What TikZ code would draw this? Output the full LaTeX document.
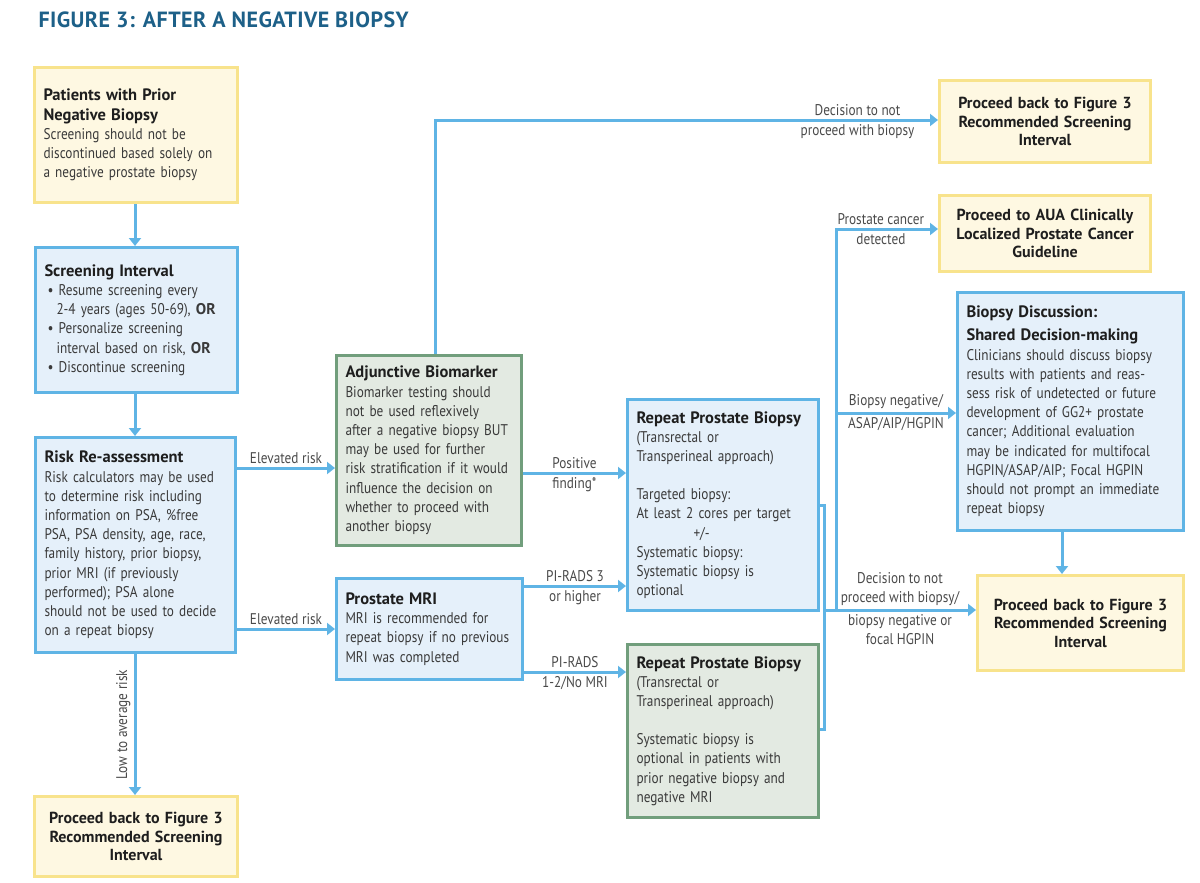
\documentclass[tikz,border=0pt]{standalone}
\usepackage{fontspec}
\setmainfont{PT Sans}[UprightFeatures={FakeStretch=0.855}]
\newfontfamily\titlefont{PT Sans}[LetterSpace=2]
\usetikzlibrary{arrows.meta}
\definecolor{titleblue}{HTML}{1D6088}
\definecolor{arr}{HTML}{5FB4E5}
\definecolor{bluefill}{HTML}{E5F0FA}
\definecolor{bluebd}{HTML}{5FB4E5}
\definecolor{yelfill}{HTML}{FEF8E2}
\definecolor{yelbd}{HTML}{F8E38C}
\definecolor{greenfill}{HTML}{E3EAE2}
\definecolor{greenbd}{HTML}{719E7C}
\definecolor{bodytxt}{HTML}{3A3A3A}
\definecolor{headtxt}{HTML}{1E1E1E}
\definecolor{lbltxt}{HTML}{4A4A4A}
\hyphenpenalty=10000
\exhyphenpenalty=10000
\newcommand{\hd}[1]{{\color{headtxt}\bfseries\fontsize{16.5}{19}\selectfont #1}}

\begin{document}
\begin{tikzpicture}[
    x=1pt, y=1pt,
    box/.style={line width=3pt, inner xsep=9pt, inner ysep=3pt, anchor=north west,
                align=left, font=\fontsize{15.5}{19.2}\selectfont, text=bodytxt},
    bluebox/.style={box, draw=bluebd, fill=bluefill},
    greenbox/.style={box, draw=greenbd, fill=greenfill},
    notebox/.style={box, draw=yelbd, fill=yelfill},
    yelbox/.style={box, draw=yelbd, fill=yelfill, align=center, text=headtxt,
                   font=\bfseries\fontsize{16}{18.5}\selectfont},
    arrow/.style={-{Triangle[length=8pt,width=12pt]}, line width=3pt, draw=arr},
    link/.style={line width=3pt, draw=arr},
    lbl/.style={font=\fontsize{15.5}{25}\selectfont, text=lbltxt, align=center, inner sep=3pt},
]
    \useasboundingbox (0,0) rectangle (1200,-883);

    \node[anchor=base west, text=titleblue, font=\titlefont\bfseries\fontsize{22}{24}\selectfont]
        (title) at (35,-28) {FIGURE 3: AFTER A NEGATIVE BIOPSY};

    % Left column
    \node[notebox, minimum width=203pt, minimum height=135pt, text width=185pt] (prior) at (33,-66)
        {\hd{Patients with Prior\\Negative Biopsy}\\Screening should not be\\discontinued based solely on\\a negative prostate biopsy};
    \node[bluebox, minimum width=202pt, minimum height=145pt, text width=184pt] (interval) at (34,-246)
        {\hd{Screening Interval}\\
         \hspace*{3pt}\textbullet\ Resume screening every\\
         \hspace*{12pt}2-4 years (ages 50-69), \textbf{OR}\\
         \hspace*{3pt}\textbullet\ Personalize screening\\
         \hspace*{12pt}interval based on risk, \textbf{OR}\\
         \hspace*{3pt}\textbullet\ Discontinue screening};
    \node[bluebox, minimum width=200pt, minimum height=215pt, text width=182pt] (reassess) at (34,-436)
        {\hd{Risk Re-assessment}\\Risk calculators may be used\\to determine risk including\\information on PSA, \%free\\PSA, PSA density, age, race,\\family history, prior biopsy,\\prior MRI (if previously\\performed); PSA alone\\should not be used to decide\\on a repeat biopsy};
    \node[yelbox, minimum width=203pt, minimum height=80pt, text width=185pt] (backlow) at (33,-795)
        {Proceed back to Figure 3\\Recommended Screening\\Interval};

    % Middle column
    \node[greenbox, minimum width=184pt, minimum height=190pt, text width=167pt] (biomarker) at (335,-354)
        {\hd{Adjunctive Biomarker}\\Biomarker testing should\\not be used reflexively\\after a negative biopsy BUT\\may be used for further\\risk stratification if it would\\influence the decision on\\whether to proceed with\\another biopsy};
    \node[bluebox, minimum width=184pt, minimum height=101pt, text width=168pt] (mri) at (335,-577)
        {\hd{Prostate MRI}\\MRI is recommended for\\repeat biopsy if no previous\\MRI was completed};

    \node[bluebox, minimum width=191pt, minimum height=211pt, text width=173pt] (targeted) at (626,-398)
        {\hd{Repeat Prostate Biopsy}\\(Transrectal or\\Transperineal approach)\\[19pt]Targeted biopsy:\\At least 2 cores per target\\\hspace*{57pt}+/-\\Systematic biopsy:\\Systematic biopsy is\\optional};
    \node[greenbox, minimum width=191pt, minimum height=173pt, text width=173pt] (systematic) at (626,-643)
        {\hd{Repeat Prostate Biopsy}\\(Transrectal or\\Transperineal approach)\\[19pt]Systematic biopsy is\\optional in patients with\\prior negative biopsy and\\negative MRI};

    % Right column
    \node[yelbox, minimum width=211pt, minimum height=82pt, text width=193pt] (backtop) at (938,-79)
        {Proceed back to Figure 3\\Recommended Screening\\Interval};
    \node[yelbox, minimum width=211pt, minimum height=76pt, text width=193pt] (aua) at (938,-194)
        {Proceed to AUA Clinically\\Localized Prostate Cancer\\Guideline};
    \node[bluebox, minimum width=226pt, minimum height=238pt, text width=208pt] (discuss) at (956,-291)
        {\hd{Biopsy Discussion:}\\[4pt]\hd{Shared Decision-making}\\Clinicians should discuss biopsy\\results with patients and reas-\\sess risk of undetected or future\\development of GG2+ prostate\\cancer; Additional evaluation\\may be indicated for multifocal\\HGPIN/ASAP/AIP; Focal HGPIN\\should not prompt an immediate\\repeat biopsy};
    \node[yelbox, minimum width=206pt, minimum height=95pt, text width=188pt] (backright) at (976,-574)
        {Proceed back to Figure 3\\Recommended Screening\\Interval};

    \coordinate (join) at (824,-610);
    \coordinate (split) at (836,-610);

    % Connectors
    \draw[arrow] (prior.south -| 135,0) -- (interval.north -| 135,0);
    \draw[arrow] (interval.south -| 135,0) -- (reassess.north -| 135,0);
    \draw[arrow] (reassess.south -| 135,0) -- (backlow.north -| 135,0)
        node[lbl, midway, rotate=90, above] {Low to average risk};

    \draw[arrow] (reassess.east |- 0,-468) -- (biomarker.west |- 0,-468)
        node[lbl, midway, above] {Elevated risk};
    \draw[arrow] (reassess.east |- 0,-629) -- (mri.west |- 0,-629)
        node[lbl, midway, above] {Elevated risk};

    \draw[arrow] (biomarker.north -| 435,0) |- (backtop.west |- 0,-120)
        node[lbl, pos=0.92, above] {Decision to not}
        node[lbl, pos=0.92, below] {proceed with biopsy};
    \draw[arrow] (biomarker.east |- 0,-473) -- (targeted.west |- 0,-473)
        node[lbl, midway, above] {Positive}
        node[lbl, midway, below] {finding*};
    \draw[arrow] (mri.east |- 0,-586) -- (targeted.west |- 0,-586)
        node[lbl, midway, above] {PI-RADS 3}
        node[lbl, midway, below] {or higher};
    \draw[arrow] (mri.east |- 0,-672) -- (systematic.west |- 0,-672)
        node[lbl, midway, above] {PI-RADS}
        node[lbl, midway, below] {1-2/No MRI};

    \draw[link] (targeted.east |- 0,-505) -| (join) |- (systematic.east |- 0,-729);
    \draw[arrow] (join) -- (backright.west |- join)
        node[lbl, midway, above, font=\fontsize{15.5}{19}\selectfont] {Decision to not\\proceed with biopsy/}
        node[lbl, midway, below, font=\fontsize{15.5}{19}\selectfont] {biopsy negative or\\focal HGPIN};
    \draw[arrow] (split) |- (aua.west |- 0,-229)
        node[lbl, pos=0.72, above] {Prostate cancer}
        node[lbl, pos=0.72, below] {detected};
    \draw[arrow] (split |- 0,-413) -- (discuss.west |- 0,-413)
        node[lbl, midway, above] {Biopsy negative/}
        node[lbl, midway, below] {ASAP/AIP/HGPIN};
    \draw[arrow] (discuss.south -| 1062,0) -- (backright.north -| 1062,0);
\end{tikzpicture}
\end{document}
